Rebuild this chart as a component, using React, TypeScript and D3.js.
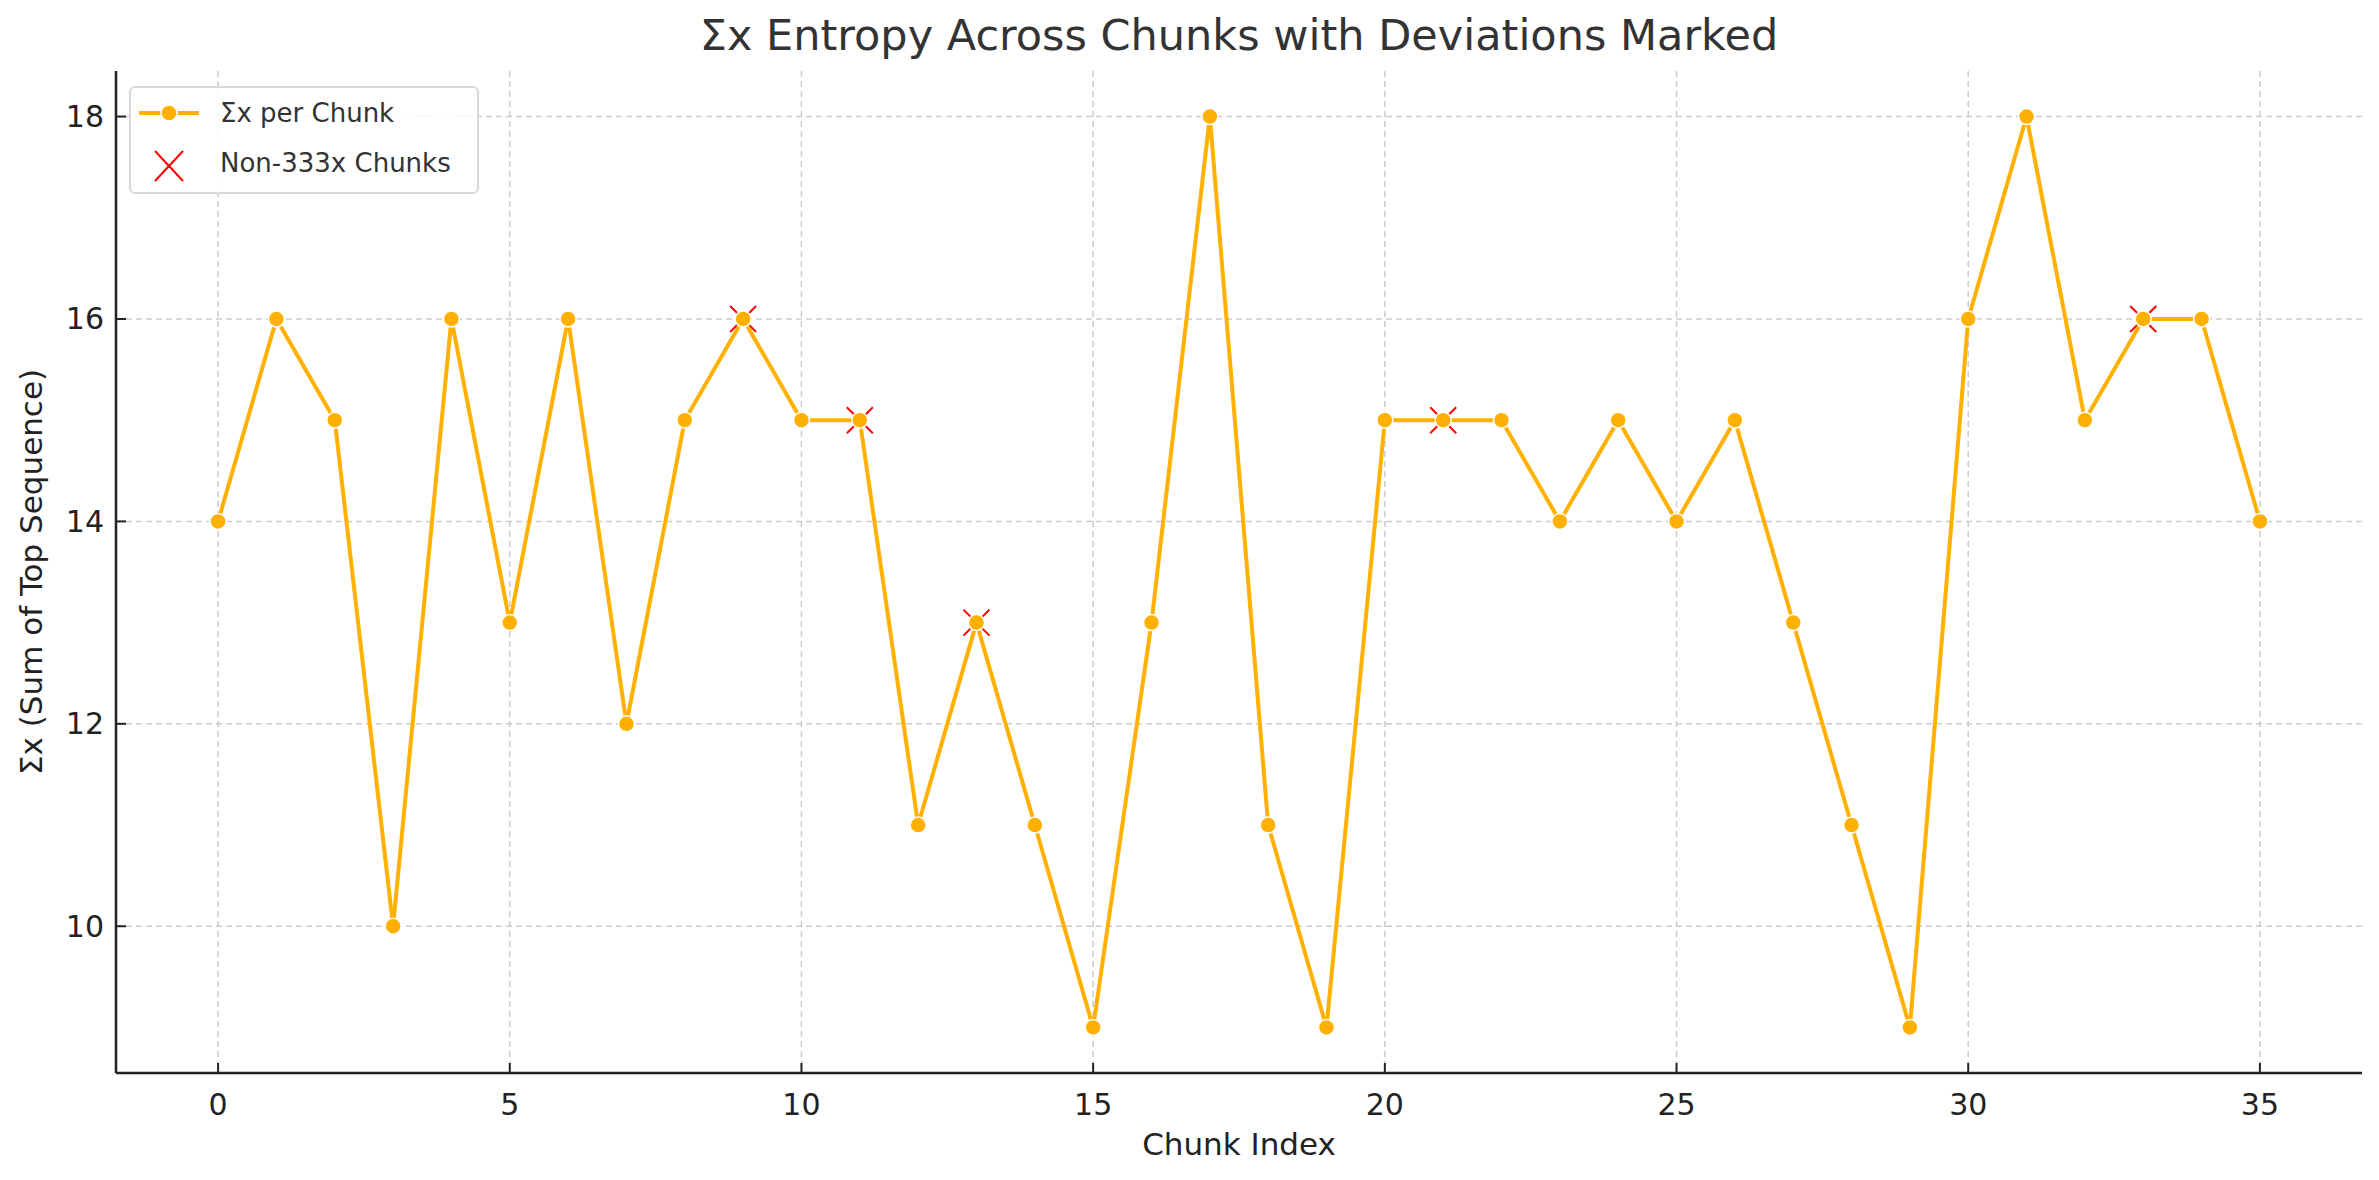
import React from "react";
import * as d3 from "d3";

const chunkIndex = d3.range(36);
const sumX = [14, 16, 15, 10, 16, 13, 16, 12, 15, 16, 15, 15, 11, 13, 11, 9, 13, 18, 11, 9, 15, 15, 15, 14, 15, 14, 15, 13, 11, 9, 16, 18, 15, 16, 16, 14];
const deviations = [9, 11, 13, 21, 33];
const xTicks = [0, 5, 10, 15, 20, 25, 30, 35];
const yTicks = [10, 12, 14, 16, 18];

const W = 2379;
const H = 1180;
const M = { left: 116, right: 2362, top: 71, bottom: 1073 };
const ORANGE = "#ffb000";
const FONT = "DejaVu Sans, sans-serif";

const App = () => {
  const x = d3.scaleLinear().domain([-1.75, 36.75]).range([M.left, M.right]);
  const y = d3.scaleLinear().domain([8.55, 18.45]).range([M.bottom, M.top]);
  const line = d3.line<number>().x((d, i) => x(chunkIndex[i])).y((d) => y(d));
  const cross = 13;

  return (
    <svg width={W} height={H} style={{ display: "block", margin: -8, fontFamily: FONT }}>
      <rect width={W} height={H} fill="#fff" />
      {xTicks.map((t) => (
        <line key={"gx" + t} x1={x(t)} x2={x(t)} y1={M.top} y2={M.bottom} stroke="#ccc" strokeDasharray="6,4" strokeWidth={1.5} />
      ))}
      {yTicks.map((t) => (
        <line key={"gy" + t} x1={M.left} x2={M.right} y1={y(t)} y2={y(t)} stroke="#ccc" strokeDasharray="6,4" strokeWidth={1.5} />
      ))}
      {deviations.map((i) => (
        <g key={"d" + i} stroke="red" strokeWidth={2}>
          <line x1={x(i) - cross} x2={x(i) + cross} y1={y(sumX[i]) - cross} y2={y(sumX[i]) + cross} />
          <line x1={x(i) - cross} x2={x(i) + cross} y1={y(sumX[i]) + cross} y2={y(sumX[i]) - cross} />
        </g>
      ))}
      <path d={line(sumX)!} fill="none" stroke={ORANGE} strokeWidth={4} strokeLinejoin="round" />
      {sumX.map((v, i) => (
        <circle key={i} cx={x(chunkIndex[i])} cy={y(v)} r={8} fill={ORANGE} stroke="#fff" strokeWidth={1.5} />
      ))}
      <line x1={M.left} x2={M.left} y1={M.top} y2={M.bottom} stroke="#222" strokeWidth={2.5} />
      <line x1={M.left} x2={M.right} y1={M.bottom} y2={M.bottom} stroke="#222" strokeWidth={2.5} />
      {xTicks.map((t) => (
        <g key={"tx" + t}>
          <line x1={x(t)} x2={x(t)} y1={M.bottom} y2={M.bottom - 10} stroke="#222" strokeWidth={2} />
          <text x={x(t)} y={M.bottom + 42} textAnchor="middle" fontSize={30} fill="#222">{t}</text>
        </g>
      ))}
      {yTicks.map((t) => (
        <g key={"ty" + t}>
          <line x1={M.left} x2={M.left + 10} y1={y(t)} y2={y(t)} stroke="#222" strokeWidth={2} />
          <text x={M.left - 12} y={y(t)} dy="0.35em" textAnchor="end" fontSize={30} fill="#222">{t}</text>
        </g>
      ))}
      <text x={(M.left + M.right) / 2} y={50} textAnchor="middle" fontSize={43} fill="#333">Σx Entropy Across Chunks with Deviations Marked</text>
      <text x={(M.left + M.right) / 2} y={1155} textAnchor="middle" fontSize={31} fill="#222">Chunk Index</text>
      <text transform={`translate(42,${(M.top + M.bottom) / 2}) rotate(-90)`} textAnchor="middle" fontSize={31} fill="#222">Σx (Sum of Top Sequence)</text>
      <g transform={`translate(${M.left + 14},${M.top + 16})`}>
        <rect width={348} height={106} rx={5} fill="#fff" fillOpacity={0.85} stroke="#d8d8d8" strokeWidth={2} />
        <line x1={9} x2={69} y1={26} y2={26} stroke={ORANGE} strokeWidth={4} />
        <circle cx={39} cy={26} r={8} fill={ORANGE} stroke="#fff" strokeWidth={1.5} />
        <text x={90} y={26} dy="0.35em" fontSize={26} fill="#333">Σx per Chunk</text>
        <g stroke="red" strokeWidth={2}>
          <line x1={25} x2={53} y1={64} y2={94} />
          <line x1={25} x2={53} y1={94} y2={64} />
        </g>
        <text x={90} y={76} dy="0.35em" fontSize={26} fill="#333">Non-333x Chunks</text>
      </g>
    </svg>
  );
};

export default App;
